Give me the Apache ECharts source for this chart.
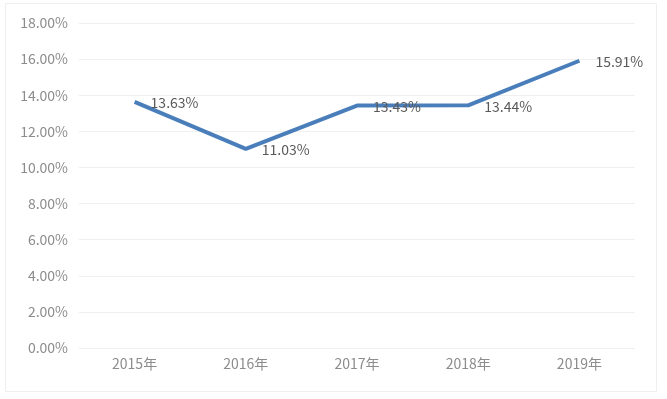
<!DOCTYPE html>
<html>
<head>
<meta charset="utf-8">
<script src="https://cdn.jsdelivr.net/npm/echarts@6/dist/echarts.min.js"></script>
<style>
  html, body { margin: 0; padding: 0; background: #fff; }
  #chart { width: 667px; height: 399px; }
</style>
</head>
<body>
<div id="chart"></div>
<script>
var categories = ['2015年', '2016年', '2017年', '2018年', '2019年'];
var rates = [13.63, 11.03, 13.43, 13.44, 15.91];

var chart = echarts.init(document.getElementById('chart'));

var option = {
  animation: false,
  backgroundColor: '#fff',
  textStyle: { fontFamily: '"Noto Sans CJK SC", "Liberation Sans", sans-serif' },
  graphic: [{
    type: 'rect',
    shape: { x: 5.5, y: 3.5, width: 651, height: 388 },
    style: { fill: 'none', stroke: '#eeeeee', lineWidth: 1 },
    silent: true
  }],
  grid: { left: 79, right: 32, top: 23, bottom: 51 },
  xAxis: {
    type: 'category',
    data: categories,
    boundaryGap: true,
    axisLine: { show: false },
    axisTick: { show: false },
    axisLabel: { color: '#8c8c8c', fontSize: 14, margin: 9 }
  },
  yAxis: {
    type: 'value',
    min: 0,
    max: 18,
    interval: 2,
    axisLine: { show: false },
    axisTick: { show: false },
    splitLine: { lineStyle: { color: '#f0f0f0', width: 1 } },
    axisLabel: {
      color: '#8c8c8c',
      fontSize: 14,
      margin: 11,
      formatter: function (v) { return v.toFixed(2) + '%'; }
    }
  },
  series: [{
    type: 'line',
    data: rates,
    symbol: 'circle',
    symbolSize: 2,
    showSymbol: true,
    itemStyle: { color: 'rgba(74,126,187,0)', borderWidth: 0 },
    lineStyle: { color: '#4a7ebb', width: 4 },
    label: {
      show: true,
      position: 'right',
      distance: 15,
      offset: [0, 1],
      opacity: 1,
      color: '#595959',
      fontSize: 14,
      formatter: function (p) { return p.value.toFixed(2) + '%'; }
    }
  }]
};

chart.setOption(option);
</script>
</body>
</html>
